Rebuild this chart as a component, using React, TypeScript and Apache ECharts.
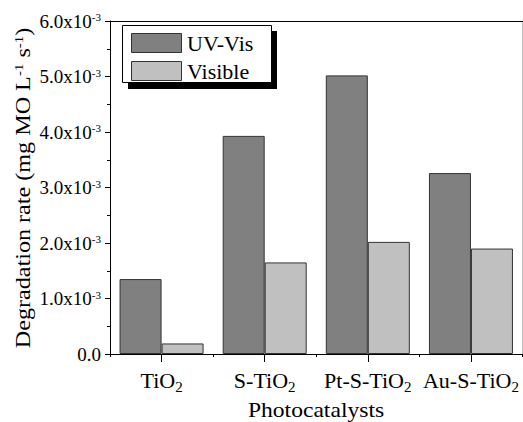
import React, { useEffect, useRef } from "react";
import * as echarts from "echarts";

const categories = ["TiO2", "S-TiO2", "Pt-S-TiO2", "Au-S-TiO2"];
const categoryLabels = ["TiO{s|2}", "S-TiO{s|2}", "Pt-S-TiO{s|2}", "Au-S-TiO{s|2}"];
const uvVis = [0.00135, 0.00393, 0.00502, 0.00326];
const visible = [0.00019, 0.00165, 0.00202, 0.0019];
const seriesNames = ["UV-Vis", "Visible"];
const seriesColors = ["#808080", "#c0c0c0"];

const FONT = "Liberation Serif";

export default function App() {
  const ref = useRef<HTMLDivElement>(null);
  useEffect(() => {
    if (!ref.current) return;
    const chart = echarts.init(ref.current, null, { renderer: "svg" });
    const legendItems: any[] = [];
    seriesNames.forEach((name, i) => {
      const top = 33 + i * 28;
      legendItems.push({
        type: "rect",
        z: 10,
        shape: { x: 131.5, y: top + 0.5, width: 50, height: 19 },
        style: { fill: seriesColors[i], stroke: "#333", lineWidth: 1 },
      });
      legendItems.push({
        type: "text",
        z: 10,
        x: 187,
        y: top + 10,
        style: {
          text: name,
          fontFamily: FONT,
          fontSize: 22,
          fill: "#000",
          align: "left",
          verticalAlign: "middle",
        },
      });
    });
    const option: any = {
      animation: false,
      backgroundColor: "#ffffff",
      textStyle: { fontFamily: FONT, color: "#000" },
      grid: { left: 110, right: 0.5, top: 21, bottom: 68, containLabel: false },
      graphic: [
        { type: "rect", z: 5, shape: { x: 128, y: 31, width: 149, height: 58 }, style: { fill: "#000" } },
        { type: "rect", z: 6, shape: { x: 122.5, y: 25.5, width: 149, height: 57 }, style: { fill: "#fff", stroke: "#000", lineWidth: 1 } },
        ...legendItems,
        {
          type: "text",
          z: 10,
          x: 23,
          y: 188,
          rotation: Math.PI / 2,
          scaleX: 1.15,
          style: {
            text: "Degradation rate (mg MO L{sup|-1} s{sup|-1})",
            fontFamily: FONT,
            fontSize: 21,
            fill: "#000",
            align: "center",
            verticalAlign: "middle",
            rich: {
              sup: { fontSize: 13, verticalAlign: "top", lineHeight: 13, fontFamily: FONT, fill: "#000" },
            },
          },
        },
        {
          type: "text",
          z: 10,
          x: 316,
          y: 411,
          scaleX: 1.18,
          style: {
            text: "Photocatalysts",
            fontFamily: FONT,
            fontSize: 20,
            fill: "#000",
            align: "center",
            verticalAlign: "middle",
          },
        },
      ],
      xAxis: [
        {
          type: "category",
          data: categories,
          position: "bottom",
          axisLine: { show: true, lineStyle: { color: "#000", width: 1 } },
          axisTick: { show: true, alignWithLabel: true, length: 8, lineStyle: { color: "#000" } },
          axisLabel: {
            interval: 0,
            margin: 13,
            color: "#000",
            fontFamily: FONT,
            fontSize: 22,
            formatter: (v: string) => categoryLabels[categories.indexOf(v)],
            rich: {
              s: { fontSize: 15, verticalAlign: "bottom", lineHeight: 15, fontFamily: FONT, color: "#000" },
            },
            lineHeight: 27,
            verticalAlign: "top",
          },
          splitLine: { show: false },
        },
        {
          type: "category",
          data: categories,
          position: "bottom",
          axisLine: { show: false },
          axisTick: { show: true, alignWithLabel: false, interval: 0, length: 3, lineStyle: { color: "#000" } },
          axisLabel: { show: false },
          splitLine: { show: false },
        },
        {
          type: "category",
          data: categories,
          position: "top",
          axisLine: { show: true, lineStyle: { color: "#000", width: 1 } },
          axisTick: { show: false },
          axisLabel: { show: false },
        },
      ],
      yAxis: [
        {
          type: "value",
          min: 0,
          max: 0.006,
          interval: 0.001,
          axisLine: { show: true, lineStyle: { color: "#000", width: 1 } },
          axisTick: { show: true, length: 5, lineStyle: { color: "#000" } },
          minorTick: { show: true, splitNumber: 2, length: 3, lineStyle: { color: "#000" } },
          splitLine: { show: false },
          axisLabel: {
            margin: 9,
            color: "#000",
            fontFamily: FONT,
            fontSize: 19,
            formatter: (v: number) => (v === 0 ? "0.0" : `${(v * 1000).toFixed(1)}x10{sup|-3}`),
            rich: {
              sup: { fontSize: 11, verticalAlign: "top", lineHeight: 11, fontFamily: FONT, color: "#000" },
            },
          },
        },
        {
          type: "value",
          position: "right",
          min: 0,
          max: 0.006,
          interval: 0.001,
          axisLine: { show: true, lineStyle: { color: "#bbb", width: 1 } },
          axisTick: { show: false },
          axisLabel: { show: false },
          splitLine: { show: false },
        },
      ],
      series: [
        {
          name: seriesNames[0],
          type: "bar",
          data: uvVis,
          barWidth: 42,
          barGap: "0%",
          itemStyle: { color: seriesColors[0], borderColor: "#333", borderWidth: 1 },
        },
        {
          name: seriesNames[1],
          type: "bar",
          data: visible,
          barWidth: 42,
          barGap: "0%",
          itemStyle: { color: seriesColors[1], borderColor: "#333", borderWidth: 1 },
        },
      ],
    };
    chart.setOption(option);
    return () => chart.dispose();
  }, []);
  return (
    <div
      ref={ref}
      style={{ position: "fixed", left: 0, top: 0, width: 523, height: 422, background: "#fff" }}
    />
  );
}
